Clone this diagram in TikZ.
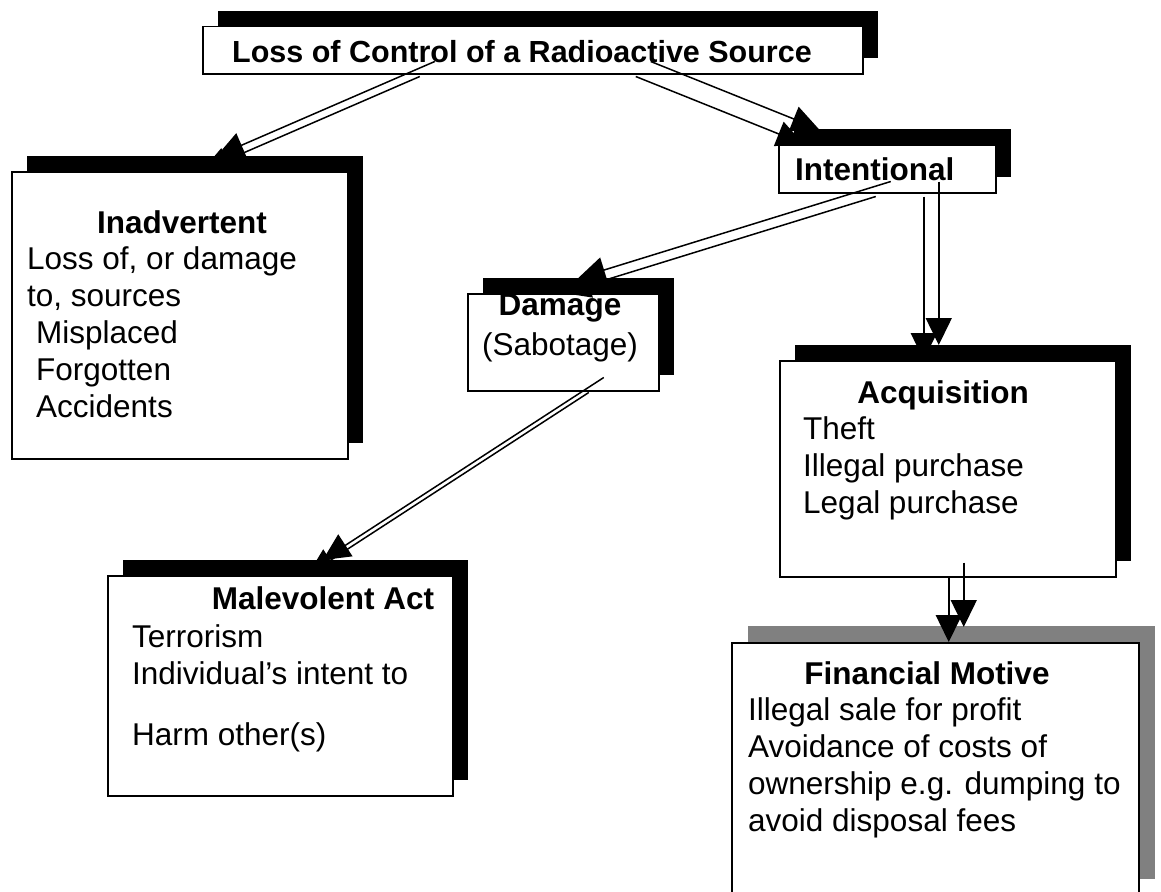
\documentclass[tikz,border=0pt]{standalone}
\usepackage{fontspec}
\setmainfont{Liberation Sans}
\usetikzlibrary{arrows.meta,shadows,positioning}

\newcommand{\boxfont}{\fontsize{31.5}{36.8}\selectfont}
\newcommand{\headfont}{\fontsize{30.5}{36}\selectfont}

\tikzset{
  box/.style={draw, line width=1.5pt, fill=white, inner sep=0pt, anchor=north west,
    general shadow={fill=black, shadow xshift=15pt, shadow yshift=16pt}},
  greybox/.style={draw, line width=1.5pt, fill=white, inner sep=0pt, anchor=north west,
    general shadow={fill=gray, shadow xshift=16pt, shadow yshift=17pt}},
  txt/.style={inner sep=0pt, font=\boxfont},
  arr/.style={line width=1.5pt, -{Triangle[length=27pt,width=26pt]}}
}

\begin{document}
\begin{tikzpicture}[x=1pt, y=-1pt]
    \useasboundingbox (0,0) rectangle (1161,891);

    % boxes
    \node[box, minimum width=660pt, minimum height=47pt] (source) at (202,26) {};
    \node[box, minimum width=336pt, minimum height=287pt] (inad) at (11,171) {};
    \node[box, minimum width=217pt, minimum height=48pt] (intent) at (778,144) {};
    \node[box, minimum width=191pt, minimum height=97pt] (damage) at (467,293) {};
    \node[box, minimum width=336pt, minimum height=216pt] (acq) at (779,360) {};
    \node[box, minimum width=345pt, minimum height=220pt] (malev) at (107,575) {};
    \node[greybox, minimum width=407pt, minimum height=253pt] (fin) at (731,642) {};

    % texts (multi-line nodes sit on their last baseline)
    \node[txt, font=\headfont, anchor=base] (sourcetxt) at (522,63) {\textbf{Loss of Control of a Radioactive Source}};
    \node[txt, anchor=base] (inadtxt) at (182,233) {\textbf{Inadvertent}};
    \node[txt, anchor=base west, align=left] (inadlist) at (27,417)
        {Loss of, or damage\\to, sources\\\hspace*{9pt}Misplaced\\\hspace*{9pt}Forgotten\\\hspace*{9pt}Accidents};
    \node[txt, anchor=base west] (intenttxt) at (795,180) {\textbf{Intentional}};
    \node[txt, anchor=base, align=center] (damagetxt) at (560,355) {\textbf{Damage}\\[3pt](Sabotage)};
    \node[txt, anchor=base] (acqtxt) at (943,403) {\textbf{Acquisition}};
    \node[txt, anchor=base west, align=left] (acqlist) at (803,513)
        {Theft\\Illegal purchase\\Legal purchase};
    \node[txt, anchor=base] (malevtxt) at (323,609) {\textbf{Malevolent Act}};
    \node[txt, anchor=base west, align=left] (malevlist) at (132,745)
        {Terrorism\\Individual’s intent to\\[24pt]Harm other(s)};
    \node[txt, anchor=base] (fintxt) at (927,684) {\textbf{Financial Motive}};
    \node[txt, anchor=base west, align=left] (finlist) at (748,831)
        {Illegal sale for profit\\Avoidance of costs of\\ownership e.g. dumping to\\avoid disposal fees};

    % arrows, each one with its shadow copy
    \foreach \sh in {15,0}{
    \begin{scope}[transform canvas={xshift=\sh pt, yshift=\sh pt}]
        \draw[arr] ([xshift=-113pt,yshift=-2pt]source.south) -- ([xshift=22pt]inad.north);
        \draw[arr] ([xshift=103pt,yshift=-2pt]source.south) -- ([xshift=-83.5pt]intent.north);
        \draw[arr] ([xshift=-11.5pt,yshift=-3pt]intent.south) -- (damage.north);
        \draw[arr] ([xshift=36.5pt,yshift=-3pt]intent.south) -- ([xshift=-24pt]acq.north);
        \draw[arr] ([xshift=1pt]acq.south) -- ([xshift=13.5pt]fin.north);
        \draw[arr] ([xshift=25.5pt,yshift=-1pt]damage.south) -- ([xshift=27.5pt]malev.north);
    \end{scope}
    }
\end{tikzpicture}
\end{document}
